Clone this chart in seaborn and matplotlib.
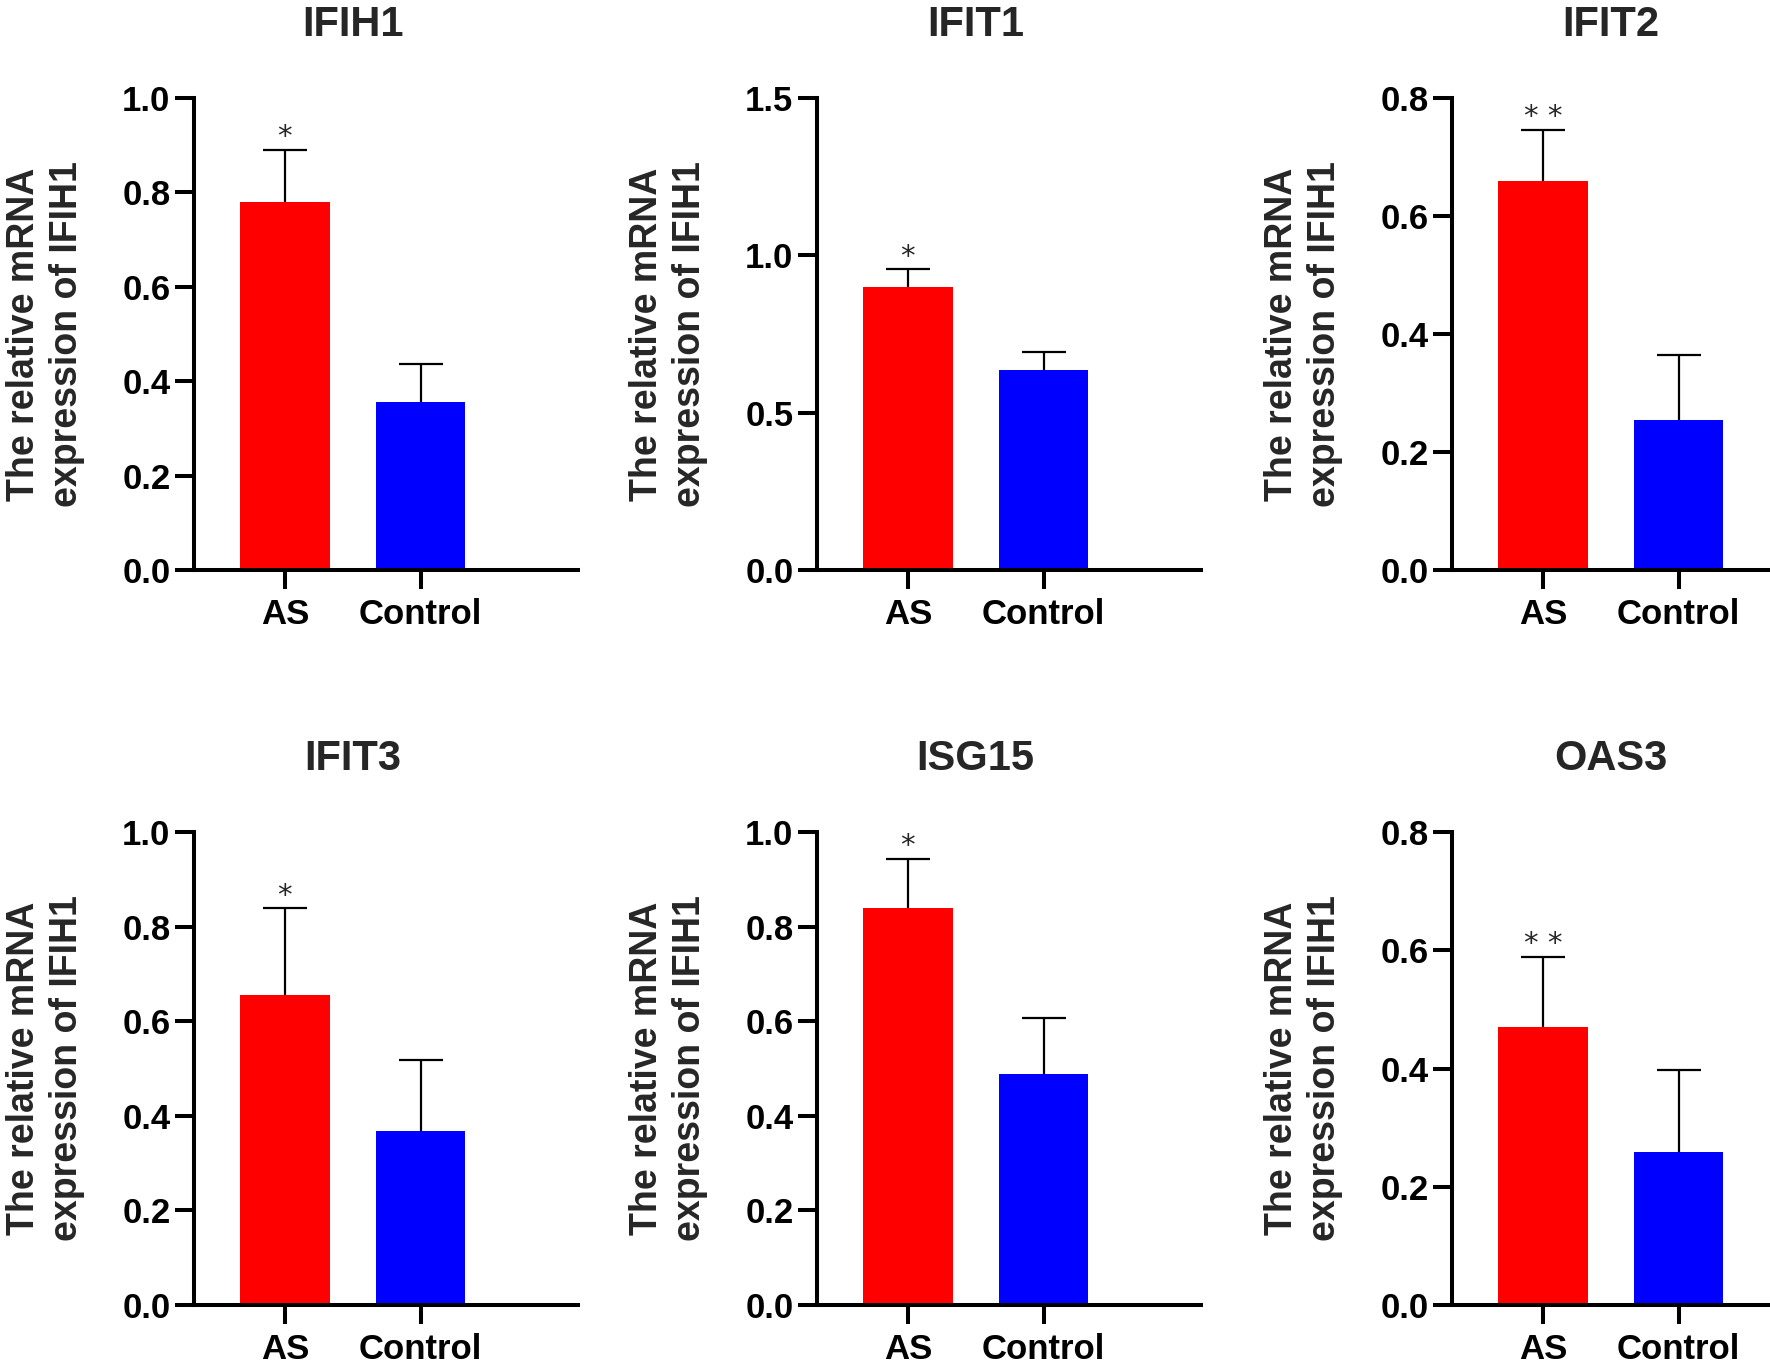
import matplotlib
matplotlib.use("Agg")
import matplotlib.pyplot as plt
import seaborn as sns
import pandas as pd

sns.set_theme(style="ticks")
plt.rcParams['font.family'] = ['Liberation Sans', 'DejaVu Sans']

genes = ["IFIH1", "IFIT1", "IFIT2", "IFIT3", "ISG15", "OAS3"]
groups = ["AS", "Control"]
as_mean = [0.78, 0.90, 0.66, 0.655, 0.84, 0.47]
as_err = [0.11, 0.055, 0.086, 0.184, 0.103, 0.119]
ctrl_mean = [0.355, 0.635, 0.255, 0.367, 0.489, 0.259]
ctrl_err = [0.082, 0.057, 0.11, 0.151, 0.118, 0.139]
signif = ["*", "*", "* *", "*", "*", "* *"]
ymax = [1.0, 1.5, 0.8, 1.0, 1.0, 0.8]
ystep = [0.2, 0.5, 0.2, 0.2, 0.2, 0.2]
ylabel = "The relative mRNA\nexpression of IFIH1"
colors = ["#FF0000", "#0000FF"]

W, H = 1770, 1366
fig = plt.figure(figsize=(W / 100, H / 100), dpi=100)

lefts = [194, 817, 1452]
rows = [(98, 570), (832, 1305)]
axw = 384
xl = (-0.67, 2.16)

for i, g in enumerate(genes):
    r, c = divmod(i, 3)
    top, bot = rows[r]
    ax = fig.add_axes([lefts[c] / W, (H - bot) / H, axw / W, (bot - top) / H])
    df = pd.DataFrame({"group": groups, "value": [as_mean[i], ctrl_mean[i]]})
    sns.barplot(data=df, x="group", y="value", hue="group", palette=colors,
                width=0.66, linewidth=0, ax=ax, legend=False, saturation=1)
    _, caps, _ = ax.errorbar([0, 1], df["value"],
                             yerr=[[0, 0], [as_err[i], ctrl_err[i]]],
                             fmt="none", ecolor="black", elinewidth=1.6,
                             capsize=15.5, capthick=1.6, zorder=1)
    caps[0].set_visible(False)
    for b in ax.patches:
        b.set_zorder(2)
    ax.annotate(signif[i], (0, as_mean[i] + as_err[i]), xytext=(0, -1),
                textcoords="offset points", ha="center", va="bottom",
                fontsize=21, family="DejaVu Sans")
    ax.set_xlim(*xl)
    ax.set_ylim(0, ymax[i])
    n = int(round(ymax[i] / ystep[i]))
    ax.set_yticks([k * ystep[i] for k in range(n + 1)])
    ax.yaxis.set_major_formatter(matplotlib.ticker.FormatStrFormatter("%.1f"))
    ax.set_xticks([0, 1])
    ax.set_xticklabels(groups)
    ax.set_xlabel("")
    ax.set_ylabel(ylabel, fontsize=27, fontweight="bold", linespacing=1.25)
    ax.yaxis.set_label_coords(-0.285, 0.5)
    ax.set_title(g, fontsize=30, fontweight="bold", pad=45, x=0.413)
    for s in ["top", "right"]:
        ax.spines[s].set_visible(False)
    for s in ["left", "bottom"]:
        ax.spines[s].set_linewidth(2.9)
        ax.spines[s].set_color("black")
    ax.tick_params(axis="both", width=2.9, length=14, color="black",
                   labelsize=25, labelcolor="black")
    ax.tick_params(axis="y", pad=3)
    ax.tick_params(axis="x", pad=6.5)
    for lab in ax.get_xticklabels() + ax.get_yticklabels():
        lab.set_fontweight("bold")
    ax.set_facecolor("white")
    ax.spines["left"].set_zorder(3)
    ax.spines["bottom"].set_zorder(3)

fig.savefig("out.png", dpi=100, facecolor="white")
